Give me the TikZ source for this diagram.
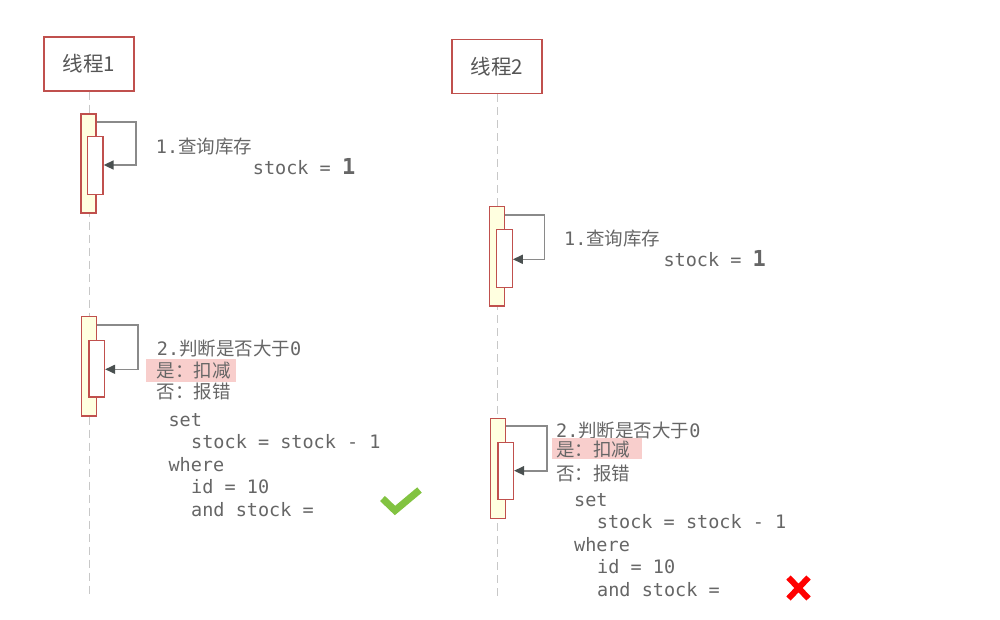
\documentclass[tikz,border=0pt]{standalone}
\usepackage{fontspec}
\setmonofont{DejaVu Sans Mono}
\newfontfamily\cjk{Noto Sans CJK SC}
\usetikzlibrary{arrows.meta}
\definecolor{txt}{HTML}{666666}
\definecolor{hdtxt}{HTML}{555555}
\definecolor{boxred}{HTML}{C0504D}
\definecolor{barfill}{HTML}{FFFFE0}
\definecolor{lifegray}{HTML}{C8C8C8}
\definecolor{arrgray}{HTML}{8A8A8A}
\definecolor{arrhead}{HTML}{4A5050}
\definecolor{pinkbg}{HTML}{F8CECC}
\definecolor{okgreen}{HTML}{82C341}
\definecolor{badred}{HTML}{FF0000}
\begin{document}
\begin{tikzpicture}[x=1pt,y=-1pt,
  head/.style={draw=boxred, fill=white, line width=1.3pt, minimum width=90pt, minimum height=54pt, inner sep=0, text=hdtxt, font=\cjk\fontsize{20.5}{22}\selectfont},
  life/.style={draw=lifegray, line width=1pt, dash pattern=on 8pt off 5pt},
  outerbar/.style={draw=boxred, fill=barfill, line width=1.2pt, minimum width=15pt, inner sep=0},
  innerbar/.style={draw=boxred, fill=white, line width=1.2pt, minimum width=15.5pt, inner sep=0},
  msg/.style={draw=arrgray, line width=1.6pt, -{Triangle[length=10pt,width=9pt,color=arrhead]}},
  lbl/.style={anchor=base west, inner sep=0, text=txt, font=\ttfamily\fontsize{18.5}{22}\selectfont},
  pk/.style={fill=pinkbg, inner sep=0, minimum width=90pt}
]
\useasboundingbox (0,0) rectangle (1000,619);
\fill[white] (0,0) rectangle (1000,619);

% headers
\node[head] (h1) at (89,64) {线程1};
\node[head] (h2) at (497,66.5) {线程2};
\coordinate (e1) at (89,598);
\coordinate (e2) at (497,600);
\draw[life] (h1.south) -- (e1);
\draw[life] (h2.south) -- (e2);

% thread 1, step 1
\node[outerbar, minimum height=99pt] (a1) at (88.5,163.5) {};
\node[innerbar, minimum height=57.6pt] (i1) at (95.3,165.5) {};
\draw[msg] (a1.east |- 0,122) -| (136,165) -- (i1.east |- 0,165);
% thread 1, step 2
\node[outerbar, minimum height=99.3pt] (a2) at (89.3,366.3) {};
\node[innerbar, minimum height=56.3pt] (i2) at (96.8,368.8) {};
\draw[msg] (a2.east |- 0,325) -| (138,369.3) -- (i2.east |- 0,369.3);
% thread 2, step 1
\node[outerbar, minimum height=99.3pt] (b1) at (496.8,256.3) {};
\node[innerbar, minimum height=58pt] (k1) at (504.5,258.3) {};
\draw[msg] (b1.east |- 0,215) -| (544.3,259.3) -- (k1.east |- 0,259.3);
% thread 2, step 2
\node[outerbar, minimum height=100pt] (b2) at (498.2,468.3) {};
\node[innerbar, minimum height=57pt] (k2) at (505.7,470.8) {};
\draw[msg] (b2.east |- 0,426) -| (546.7,470.7) -- (k2.east |- 0,470.7);

% thread 1 texts
\node[lbl] (q1) at (155.7,153.7) {1.{\cjk 查询库存}};
\node[lbl] (s1) at (252.7,174) {stock = {\fontsize{22}{22}\selectfont\bfseries 1}};
\node[lbl] (j1) at (156.7,355) {2.{\cjk 判断是否大于}0};
\node[pk, minimum height=23pt] (pk1) at (191,370.5) {};
\node[lbl] (y1) at (156.7,377) {\cjk 是：扣减};
\node[lbl] (n1) at (156.7,398.7) {\cjk 否：报错};
\node[lbl] (t1a) at (168.3,426) {set};
\node[lbl] (t1b) at (191,448) {stock = stock - 1};
\node[lbl] (t1c) at (168.3,471) {where};
\node[lbl] (t1d) at (191,493) {id = 10};
\node[lbl] (t1e) at (191,516) {and stock =};

% thread 2 texts
\node[lbl] (q2) at (564,245.3) {1.{\cjk 查询库存}};
\node[lbl] (s2) at (663.3,266) {stock = {\fontsize{22}{22}\selectfont\bfseries 1}};
\node[lbl] (j2) at (556,437) {2.{\cjk 判断是否大于}0};
\node[pk, minimum height=21.3pt] (pk2) at (596.7,448.3) {};
\node[lbl] (y2) at (556,456) {\cjk 是：扣减};
\node[lbl] (n2) at (556,480.3) {\cjk 否：报错};
\node[lbl] (t2a) at (574,506) {set};
\node[lbl] (t2b) at (596.7,528) {stock = stock - 1};
\node[lbl] (t2c) at (574,551) {where};
\node[lbl] (t2d) at (597,573) {id = 10};
\node[lbl] (t2e) at (597,596) {and stock =};

% check mark
\draw[okgreen, line width=7pt, line join=miter] (382.5,498.5) -- (395,510.5) -- (419.5,490);
% cross
\draw[badred, line width=6pt] (788.5,577.5) -- (808.5,598.5) (808.5,577.5) -- (788.5,598.5);
\end{tikzpicture}
\end{document}
